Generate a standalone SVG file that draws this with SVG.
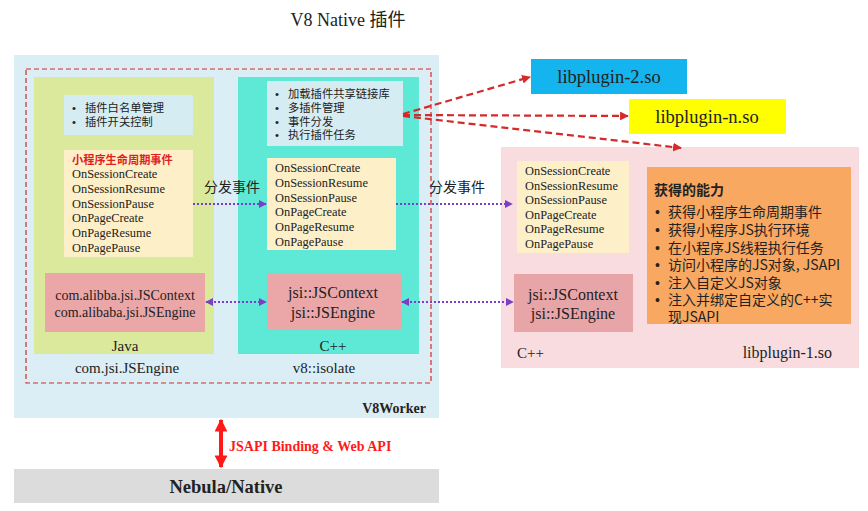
<svg xmlns="http://www.w3.org/2000/svg" width="868" height="511" viewBox="0 0 868 511">
<defs>
<style>
.serif{font-family:"Liberation Serif","Noto Sans CJK SC",serif;fill:#222}
.cjk{font-family:"Noto Sans CJK SC","Liberation Sans",sans-serif;fill:#222}
.bul{font-family:"Liberation Sans",sans-serif}
.ev{font-size:12.4px}
.lb{font-size:15px}
.red{fill:#e0201c}
.purple{stroke:#7b3fc4;stroke-width:2;stroke-dasharray:2 2;fill:none}
.rdash{stroke:#d42a2a;stroke-width:2.2;stroke-dasharray:7 4;fill:none}
</style>
<marker id="pa" viewBox="0 0 10 10" refX="9" refY="5" markerWidth="4" markerHeight="4" orient="auto-start-reverse"><path d="M0,0L10,5L0,10z" fill="#7b3fc4"/></marker>
<marker id="ra" viewBox="0 0 10 10" refX="9" refY="5" markerWidth="4" markerHeight="4" orient="auto-start-reverse"><path d="M0,0L10,5L0,10z" fill="#d42a2a"/></marker>
<marker id="ba" viewBox="0 0 10 10" refX="9" refY="5" markerWidth="3.2" markerHeight="3.2" orient="auto-start-reverse"><path d="M0,0L10,5L0,10z" fill="#ff1a1a"/></marker>
</defs>
<rect width="868" height="511" fill="#fff"/>
<text class="serif" x="348" y="26" font-size="18" text-anchor="middle">V8 Native 插件</text>

<g id="v8worker">
<rect x="14" y="55" width="425" height="363" fill="#dbeef5"/>
<rect x="26" y="69" width="405" height="314" fill="none" stroke="#d42a2a" stroke-width="1.2" stroke-dasharray="5 3"/>
<text class="serif" x="426" y="413" font-size="14" font-weight="bold" text-anchor="end">V8Worker</text>
</g>

<g id="java">
<rect x="34" y="77" width="180" height="277" fill="#dbe99c"/>
<rect x="64" y="95" width="129" height="40" fill="#d6ecf3"/>
<text class="cjk" font-size="11.3"><tspan class="bul" x="72" y="112">•</tspan><tspan x="85" y="112">插件白名单管理</tspan><tspan class="bul" x="72" y="126">•</tspan><tspan x="85" y="126">插件开关控制</tspan></text>
<rect x="64" y="150" width="129" height="107" fill="#fdf0c8"/>
<text class="cjk red" x="72" y="164" font-size="11.2" font-weight="bold">小程序生命周期事件</text>
<text class="serif ev"><tspan x="72" y="178">OnSessionCreate</tspan><tspan x="72" y="193">OnSessionResume</tspan><tspan x="72" y="207.5">OnSessionPause</tspan><tspan x="72" y="222">OnPageCreate</tspan><tspan x="72" y="237">OnPageResume</tspan><tspan x="72" y="252">OnPagePause</tspan></text>
<rect x="45" y="273" width="160" height="59" fill="#eba7a8"/>
<text class="serif" font-size="14" text-anchor="middle"><tspan x="125" y="300">com.alibba.jsi.JSContext</tspan><tspan x="125" y="317">com.alibaba.jsi.JSEngine</tspan></text>
<text class="serif lb" x="125" y="351" text-anchor="middle">Java</text>
<text class="serif lb" x="127" y="373" text-anchor="middle">com.jsi.JSEngine</text>
</g>

<g id="cpp">
<rect x="238" y="77" width="181" height="277" fill="#5ee8d6"/>
<rect x="267" y="81" width="136" height="65" fill="#d6ecf3"/>
<text class="cjk" font-size="11.3"><tspan class="bul" x="275" y="98">•</tspan><tspan x="288" y="98">加载插件共享链接库</tspan><tspan class="bul" x="275" y="112">•</tspan><tspan x="288" y="112">多插件管理</tspan><tspan class="bul" x="275" y="125.5">•</tspan><tspan x="288" y="125.5">事件分发</tspan><tspan class="bul" x="275" y="139">•</tspan><tspan x="288" y="139">执行插件任务</tspan></text>
<rect x="267" y="158" width="129" height="92" fill="#fdf0c8"/>
<text class="serif ev"><tspan x="275" y="172">OnSessionCreate</tspan><tspan x="275" y="187">OnSessionResume</tspan><tspan x="275" y="201.5">OnSessionPause</tspan><tspan x="275" y="216">OnPageCreate</tspan><tspan x="275" y="231">OnPageResume</tspan><tspan x="275" y="245.5">OnPagePause</tspan></text>
<rect x="267" y="273" width="134" height="57" fill="#eba7a8"/>
<text class="serif" font-size="16" text-anchor="middle"><tspan x="333" y="298">jsi::JSContext</tspan><tspan x="333" y="318">jsi::JSEngine</tspan></text>
<text class="serif lb" x="333" y="351" text-anchor="middle">C++</text>
<text class="serif lb" x="324" y="373" text-anchor="middle">v8::isolate</text>
</g>

<g id="libplugin-2">
<rect x="531" y="59" width="156" height="35" fill="#14b4ee"/>
<text class="serif" x="609" y="83" font-size="18.5" text-anchor="middle">libplugin-2.so</text>
</g>
<g id="libplugin-n">
<rect x="629" y="99" width="157" height="35" fill="#ffff00"/>
<text class="serif" x="707" y="123" font-size="18.5" text-anchor="middle">libplugin-n.so</text>
</g>

<g id="libplugin-1">
<rect x="501" y="147" width="358" height="221" fill="#f8dcdf"/>
<rect x="517" y="161" width="112" height="92" fill="#fdf0c8"/>
<text class="serif ev"><tspan x="525" y="175">OnSessionCreate</tspan><tspan x="525" y="189.5">OnSessionResume</tspan><tspan x="525" y="204">OnSessionPause</tspan><tspan x="525" y="218.5">OnPageCreate</tspan><tspan x="525" y="233">OnPageResume</tspan><tspan x="525" y="248">OnPagePause</tspan></text>
<rect x="514" y="274" width="119" height="58" fill="#e8a5a8"/>
<text class="serif" font-size="16" text-anchor="middle"><tspan x="573" y="300">jsi::JSContext</tspan><tspan x="573" y="319">jsi::JSEngine</tspan></text>
<rect x="647" y="167" width="204" height="157" fill="#f8a860"/>
<text class="cjk" x="654" y="195" font-size="14" font-weight="bold">获得的能力</text>
<text class="cjk" font-size="14"><tspan class="bul" x="655" y="217">•</tspan><tspan x="668" y="217">获得小程序生命周期事件</tspan><tspan class="bul" x="655" y="235">•</tspan><tspan x="668" y="235">获得小程序JS执行环境</tspan><tspan class="bul" x="655" y="252.5">•</tspan><tspan x="668" y="252.5">在小程序JS线程执行任务</tspan><tspan class="bul" x="655" y="270">•</tspan><tspan x="668" y="270">访问小程序的JS对象, JSAPI</tspan><tspan class="bul" x="655" y="288">•</tspan><tspan x="668" y="288">注入自定义JS对象</tspan><tspan class="bul" x="655" y="305">•</tspan><tspan x="668" y="305">注入并绑定自定义的C++实</tspan><tspan x="668" y="322">现JSAPI</tspan></text>
<text class="serif lb" x="517" y="358">C++</text>
<text class="serif" x="832" y="358" font-size="16" text-anchor="end">libplugin-1.so</text>
</g>

<g id="nebula">
<rect x="14" y="469" width="425" height="34" fill="#dcdcdc"/>
<text class="serif" x="226" y="493" font-size="18.5" font-weight="bold" text-anchor="middle">Nebula/Native</text>
</g>

<g id="connectors">
<text class="cjk" x="232" y="192" font-size="14" text-anchor="middle">分发事件</text>
<text class="cjk" x="457" y="192" font-size="14" text-anchor="middle">分发事件</text>
<line class="purple" x1="193" y1="204" x2="266" y2="204" marker-end="url(#pa)"/>
<line class="purple" x1="396" y1="204" x2="512" y2="204" marker-end="url(#pa)"/>
<line class="purple" x1="206" y1="302" x2="266" y2="302" marker-start="url(#pa)" marker-end="url(#pa)"/>
<line class="purple" x1="402" y1="302" x2="513" y2="302" marker-start="url(#pa)" marker-end="url(#pa)"/>
<line class="rdash" x1="403" y1="114" x2="530" y2="77" marker-end="url(#ra)"/>
<line class="rdash" x1="403" y1="115" x2="628" y2="116" marker-end="url(#ra)"/>
<line class="rdash" x1="403" y1="116" x2="681" y2="148" marker-end="url(#ra)"/>
<line x1="221" y1="420" x2="221" y2="467" stroke="#ff1a1a" stroke-width="4" marker-start="url(#ba)" marker-end="url(#ba)"/>
<text class="serif" x="229" y="451" font-size="14" font-weight="bold" style="fill:#ff1a1a">JSAPI Binding &amp; Web API</text>
</g>
</svg>
